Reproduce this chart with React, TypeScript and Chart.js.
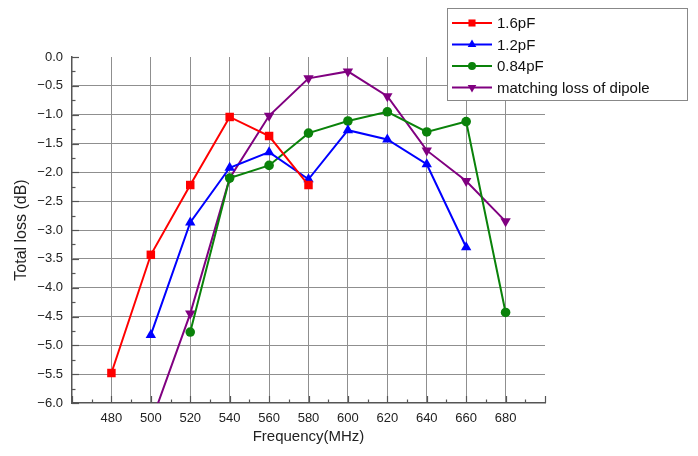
import React, { useEffect, useRef } from "react";
import { Chart, registerables } from "chart.js";

Chart.register(...registerables);

const frequencies = [480, 500, 520, 540, 560, 580, 600, 620, 640, 660, 680];
const seriesNames = ["1.6pF", "1.2pF", "0.84pF", "matching loss of dipole"];
const loss16 = [-5.48, -3.43, -2.22, -1.04, -1.37, -2.22, null, null, null, null, null];
const loss12 = [null, -4.82, -2.87, -1.92, -1.65, -2.12, -1.27, -1.43, -1.86, -3.3, null];
const loss084 = [null, null, -4.77, -2.1, -1.88, -1.32, -1.11, -0.95, -1.3, -1.12, -4.43];
const lossDipole = [null, -6.35, -4.45, -2.1, -1.02, -0.37, -0.25, -0.68, -1.62, -2.15, -2.85];
const seriesColors = ["#ff0000", "#0000ff", "#0a820a", "#800080"];
const xTitle = "Frequency(MHz)";
const yTitle = "Total loss (dB)";

const FONT = "'Liberation Sans', Arial, sans-serif";

function toPoints(values: (number | null)[]) {
  const pts: { x: number; y: number }[] = [];
  values.forEach((v, i) => {
    if (v !== null) pts.push({ x: frequencies[i], y: v });
  });
  return pts;
}

function drawMarker(ctx: CanvasRenderingContext2D, kind: number, x: number, y: number, r: number) {
  ctx.beginPath();
  if (kind === 0) {
    const s = Math.SQRT1_2 * r;
    ctx.rect(x - s, y - s, 2 * s, 2 * s);
  } else if (kind === 1 || kind === 3) {
    const dir = kind === 1 ? 1 : -1;
    ctx.moveTo(x, y - dir * r);
    ctx.lineTo(x + r * 0.866, y + dir * r * 0.5);
    ctx.lineTo(x - r * 0.866, y + dir * r * 0.5);
    ctx.closePath();
  } else {
    ctx.arc(x, y, r, 0, Math.PI * 2);
  }
  ctx.fill();
}

const innerTicksPlugin = {
  id: "innerTicks",
  beforeDatasetsDraw(chart: any) {
    const { ctx, chartArea, scales } = chart;
    const xs = scales.x;
    const ys = scales.y;
    ctx.save();
    ctx.strokeStyle = "#555";
    ctx.lineWidth = 1.2;
    for (let v = 460; v <= 700; v += 10) {
      const x = Math.round(xs.getPixelForValue(v)) + 0.5;
      const len = v % 20 === 0 ? 7 : 3.5;
      ctx.beginPath();
      ctx.moveTo(x, chartArea.bottom);
      ctx.lineTo(x, chartArea.bottom - len);
      ctx.stroke();
    }
    for (let i = 0; i <= 24; i++) {
      const v = -6 + i * 0.25;
      const y = Math.round(ys.getPixelForValue(v)) + 0.5;
      const len = i % 2 === 0 ? 7 : 3.5;
      ctx.beginPath();
      ctx.moveTo(chartArea.left, y);
      ctx.lineTo(chartArea.left + len, y);
      ctx.stroke();
    }
    ctx.restore();
  },
};

const boxLegendPlugin = {
  id: "boxLegend",
  afterDraw(chart: any) {
    const { ctx } = chart;
    const left = 447;
    const top = 8;
    const w = 240;
    const h = 92;
    ctx.save();
    ctx.fillStyle = "#ffffff";
    ctx.fillRect(left, top, w, h);
    ctx.strokeStyle = "#888";
    ctx.lineWidth = 1;
    ctx.strokeRect(left + 0.5, top + 0.5, w, h);
    chart.data.datasets.forEach((ds: any, i: number) => {
      const y = top + 15 + i * 21.5;
      ctx.strokeStyle = ds.borderColor;
      ctx.lineWidth = 2;
      ctx.beginPath();
      ctx.moveTo(left + 5, y);
      ctx.lineTo(left + 45, y);
      ctx.stroke();
      ctx.fillStyle = ds.borderColor;
      drawMarker(ctx, i, left + 25, y, i === 2 ? 4 : 5);
      ctx.fillStyle = "#111";
      ctx.font = `15px ${FONT}`;
      ctx.textBaseline = "middle";
      ctx.textAlign = "left";
      ctx.fillText(ds.label, left + 50, y + 1);
    });
    ctx.restore();
  },
};

export default function App() {
  const canvasRef = useRef<HTMLCanvasElement | null>(null);

  useEffect(() => {
    if (!canvasRef.current) return;
    const styles = [
      { pointStyle: "rect", rotation: 0, radius: 6 },
      { pointStyle: "triangle", rotation: 0, radius: 6 },
      { pointStyle: "circle", rotation: 0, radius: 4.8 },
      { pointStyle: "triangle", rotation: 180, radius: 6 },
    ];
    const allValues = [loss16, loss12, loss084, lossDipole];
    const chart = new Chart(canvasRef.current, {
      type: "line",
      data: {
        datasets: allValues.map((vals, i) => ({
          label: seriesNames[i],
          data: toPoints(vals),
          borderColor: seriesColors[i],
          backgroundColor: seriesColors[i],
          borderWidth: 2,
          pointStyle: styles[i].pointStyle as any,
          rotation: styles[i].rotation,
          pointRadius: styles[i].radius,
          pointBorderWidth: 0,
          tension: 0,
          clip: { left: 8, top: 8, right: 8, bottom: 0 } as any,
        })),
      },
      plugins: [innerTicksPlugin, boxLegendPlugin],
      options: {
        animation: false,
        responsive: true,
        maintainAspectRatio: false,
        layout: { padding: { left: 0, top: 57, right: 153, bottom: 0 } },
        plugins: {
          legend: { display: false },
          tooltip: { enabled: false },
        },
        scales: {
          x: {
            type: "linear",
            min: 460,
            max: 700,
            afterFit: (s: any) => {
              s.height = 53;
            },
            ticks: {
              stepSize: 20,
              autoSkip: false,
              maxRotation: 0,
              padding: 8,
              color: "#222",
              font: { family: FONT, size: 13 },
              callback: (v: any) => (v === 460 || v === 700 ? "" : String(v)),
            },
            grid: {
              drawTicks: false,
              lineWidth: 1,
              color: (c: any) =>
                c.tick && (c.tick.value === 460 || c.tick.value === 700) ? "rgba(0,0,0,0)" : "#8f8f8f",
            },
            border: { display: true, color: "#555", width: 1.5 },
            title: {
              display: true,
              text: xTitle,
              color: "#222",
              font: { family: FONT, size: 15 },
              padding: { top: 0, bottom: 10 },
            },
          },
          y: {
            type: "linear",
            min: -6,
            max: 0,
            afterFit: (s: any) => {
              s.width = 72;
            },
            ticks: {
              stepSize: 0.5,
              autoSkip: false,
              padding: 9,
              color: "#222",
              font: { family: FONT, size: 13 },
              callback: (v: any) => (Math.abs(v) < 1e-9 ? "0.0" : Number(v).toFixed(1).replace("-", "\u2212")),
            },
            grid: {
              drawTicks: false,
              lineWidth: 1,
              color: (c: any) =>
                c.tick && (Math.abs(c.tick.value) < 1e-9 || Math.abs(c.tick.value + 6) < 1e-9)
                  ? "rgba(0,0,0,0)"
                  : "#8f8f8f",
            },
            border: { display: true, color: "#555", width: 1.5 },
            title: {
              display: true,
              text: yTitle,
              color: "#222",
              font: { family: FONT, size: 16 },
              padding: { top: 12, bottom: 0 },
            },
          },
        },
      },
    });
    return () => chart.destroy();
  }, []);

  return (
    <div style={{ position: "absolute", left: 0, top: 0, width: 698, height: 456, background: "#fff" }}>
      <canvas ref={canvasRef} />
    </div>
  );
}
